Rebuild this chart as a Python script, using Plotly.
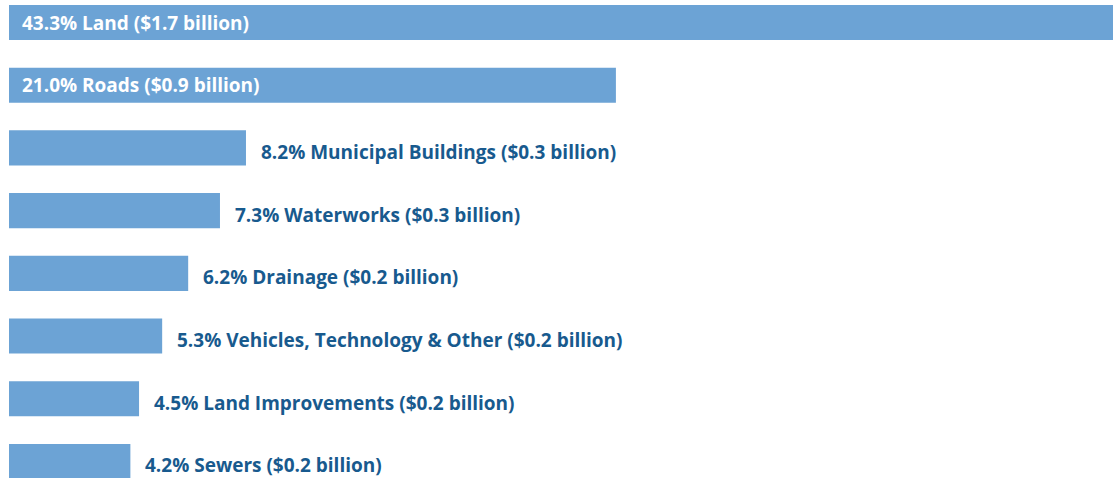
import plotly.graph_objects as go

# Capital asset categories, share of total (%) and value (billions)
categories = ["Land", "Roads", "Municipal Buildings", "Waterworks", "Drainage",
              "Vehicles, Technology & Other", "Land Improvements", "Sewers"]
shares = [43.3, 21.0, 8.2, 7.3, 6.2, 5.3, 4.5, 4.2]
billions = [1.7, 0.9, 0.3, 0.3, 0.2, 0.2, 0.2, 0.2]

BAR = "#6ca3d5"
DARK = "#185a8e"
FONT = "Open Sans"

labels = [f"{s:.1f}% {c} (${b:.1f} billion)" for c, s, b in zip(categories, shares, billions)]

fig = go.Figure(go.Bar(
    x=shares,
    y=list(range(len(categories))),
    orientation="h",
    width=0.56,
    marker=dict(color=BAR, line=dict(width=0)),
    hoverinfo="skip",
))

# Labels: the two large bars carry white text inside, the rest sit to the right
inside_cutoff = 15
for i, (s, lab) in enumerate(zip(shares, labels)):
    if s > inside_cutoff:
        fig.add_annotation(x=0, y=i, text=lab, showarrow=False,
                           xanchor="left", xshift=11, yshift=0,
                           font=dict(family=FONT, size=19, weight=700, color="white"))
    else:
        fig.add_annotation(x=s, y=i, text=lab, showarrow=False,
                           xanchor="left", xshift=13, yshift=-4,
                           font=dict(family=FONT, size=19, weight=700, color=DARK))

fig.update_layout(
    width=1113, height=478,
    margin=dict(l=9, r=0, t=0, b=0),
    paper_bgcolor="white", plot_bgcolor="white",
    showlegend=False,
    xaxis=dict(range=[0, 38.2], visible=False, fixedrange=True),
    yaxis=dict(range=[7.264, -0.359], visible=False, fixedrange=True),
)

fig.write_html("out.html", config={"displayModeBar": False})
